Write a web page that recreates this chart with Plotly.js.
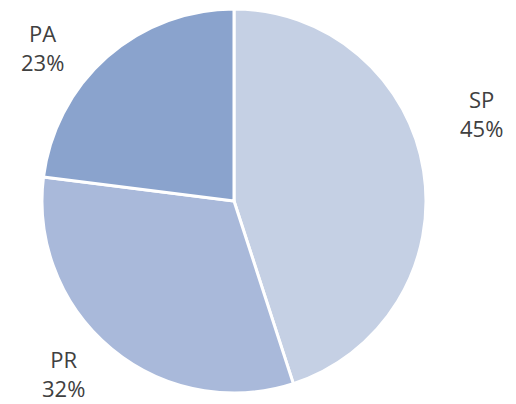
<!DOCTYPE html>
<html><head><meta charset="utf-8">
<script src="https://cdn.plot.ly/plotly-3.0.1.min.js"></script>
<style>html,body{margin:0;padding:0;background:#fff}#chart{width:516px;height:404px}</style>
</head><body><div id="chart"></div>
<script>
const labels = ["SP", "PR", "PA"];
const values = [45, 32, 23];
const colors = ["#c5d0e4", "#a9b9da", "#8aa3cd"];
// label positions in pixels (layout only)
const labelPos = [[481, 113], [63, 373], [42, 47]];

const W = 516, H = 404;
const total = values.reduce((a, b) => a + b, 0);
const annotations = labels.map((l, i) => ({
  text: l + "<br>" + Math.round(values[i] / total * 100) + "%",
  x: labelPos[i][0] / W, y: 1 - labelPos[i][1] / H,
  xref: "paper", yref: "paper", xanchor: "center", yanchor: "middle",
  showarrow: false, align: "center",
  font: {family: "Open Sans, sans-serif", size: 22, color: "#404040"}
}));

Plotly.newPlot("chart", [{
  type: "pie",
  labels: labels, values: values, sort: false,
  direction: "clockwise", rotation: 0,
  marker: {colors: colors, line: {color: "#ffffff", width: 3}},
  textinfo: "none", hoverinfo: "none",
  domain: {x: [42 / W, 426 / W], y: [1 - 393 / H, 1 - 9 / H]}
}], {
  width: W, height: H, showlegend: false,
  margin: {l: 0, r: 0, t: 0, b: 0},
  paper_bgcolor: "#ffffff", plot_bgcolor: "#ffffff",
  annotations: annotations
}, {displayModeBar: false, staticPlot: true});
</script></body></html>
